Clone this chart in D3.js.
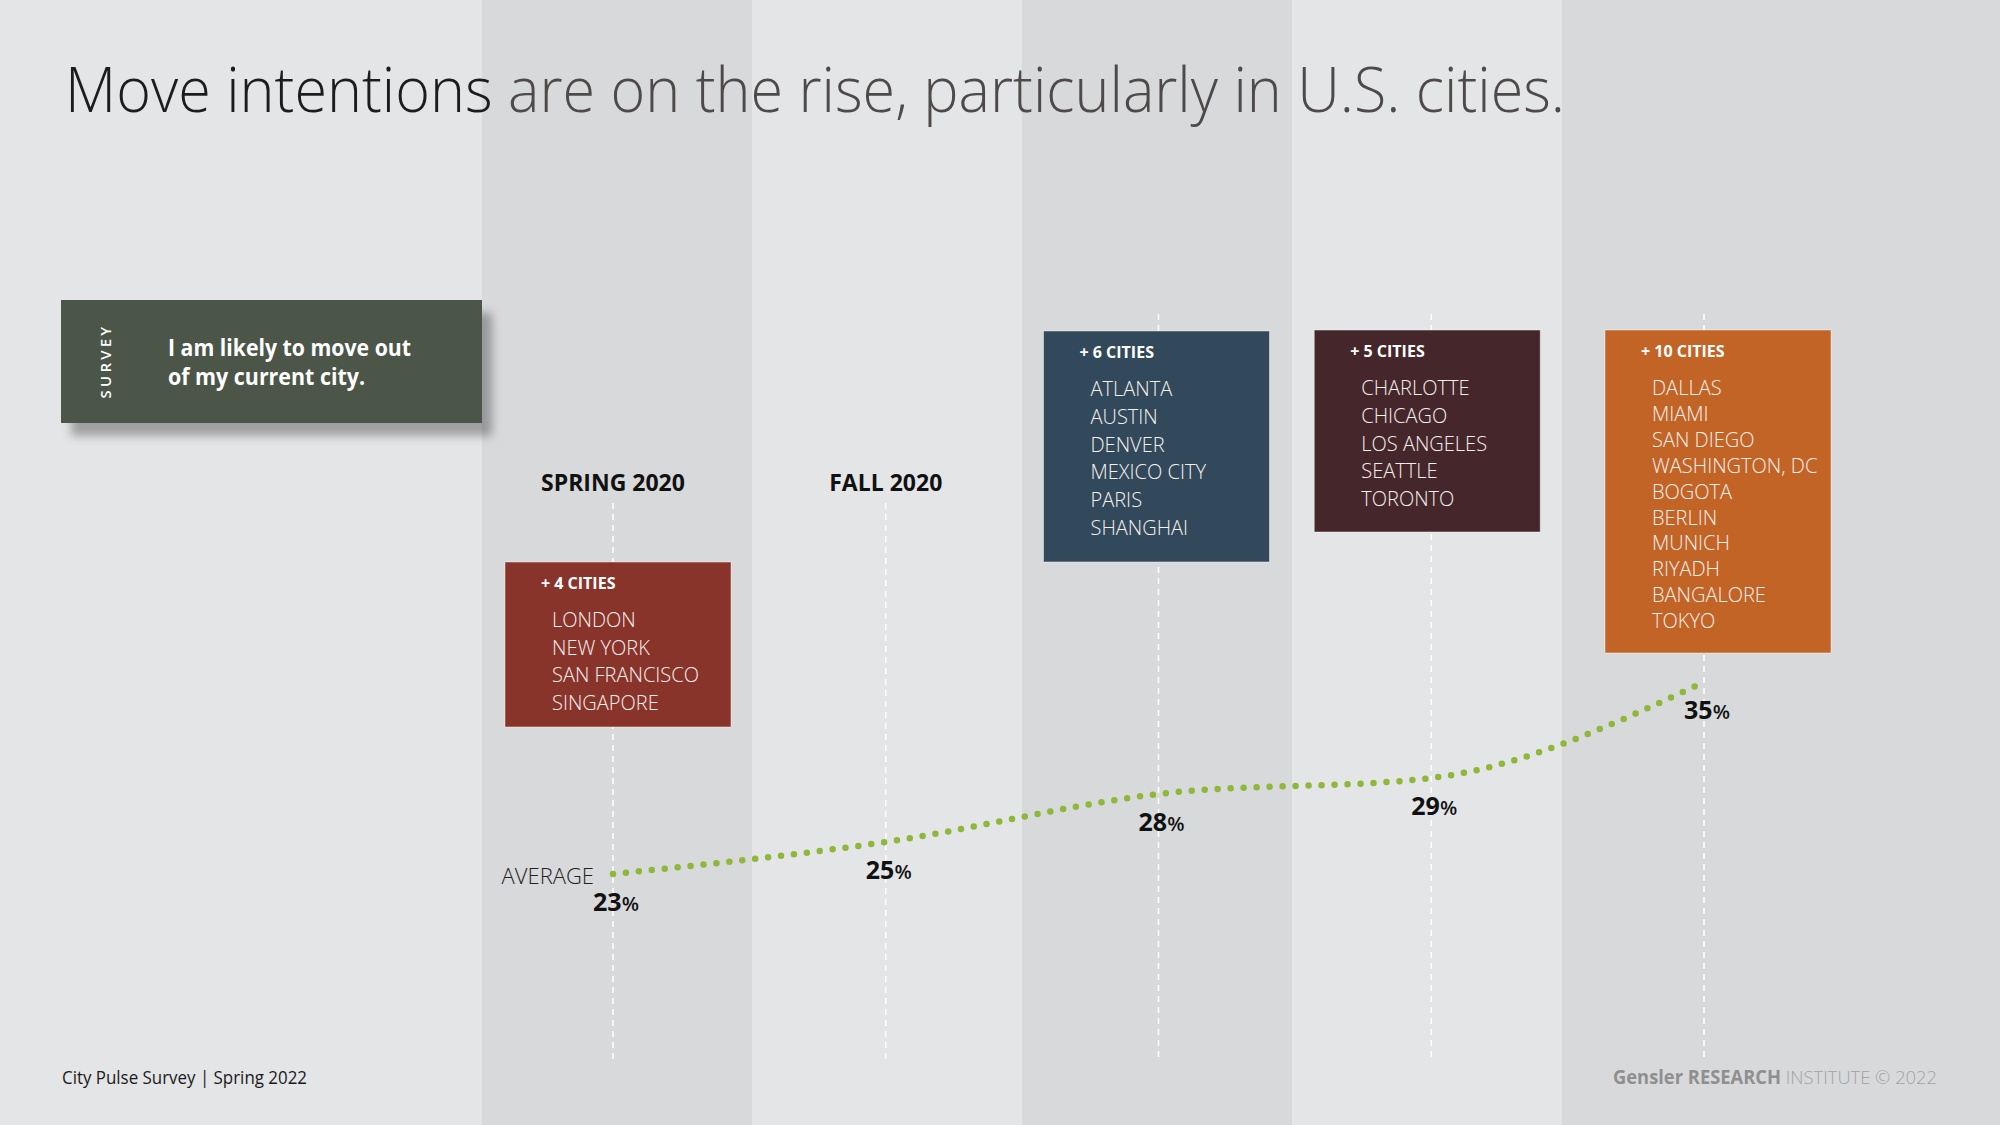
<!DOCTYPE html>
<html>
<head>
<meta charset="utf-8">
<script src="https://cdn.jsdelivr.net/npm/d3@7"></script>
<style>
html, body { margin: 0; padding: 0; background: #e4e5e7; }
svg { display: block; font-family: "Open Sans", "Noto Sans", sans-serif; }
</style>
</head>
<body>
<svg id="chart" width="2000" height="1125"></svg>
<script>
// ---- data ----
const headers = ["SPRING 2020", "FALL 2020", "", "", ""]
const averages = [23, 25, 28, 29, 35]
const addedCounts = ["+ 4 CITIES", null, "+ 6 CITIES", "+ 5 CITIES", "+ 10 CITIES"]
const addedCities = [
    ["LONDON", "NEW YORK", "SAN FRANCISCO", "SINGAPORE"],
    [],
    ["ATLANTA", "AUSTIN", "DENVER", "MEXICO CITY", "PARIS", "SHANGHAI"],
    ["CHARLOTTE", "CHICAGO", "LOS ANGELES", "SEATTLE", "TORONTO"],
    ["DALLAS", "MIAMI", "SAN DIEGO", "WASHINGTON, DC", "BOGOTA", "BERLIN", "MUNICH", "RIYADH", "BANGALORE", "TOKYO"]
]
const surveyLines = ["I am likely to move out", "of my current city."]

// ---- styling / layout ----
const boxColors = ["#89342b", null, "#32495b", "#45272b", "#c36427"]
const boxLayout = [
    { top: 562, bottom: 727, step: 27.5, dx: -108 },
    null,
    { top: 331, bottom: 562, step: 27.8, dx: -115 },
    { top: 330, bottom: 532, step: 27.8, dx: -117 },
    { top: 330, bottom: 653, step: 25.9, dx: -99 }
]
const boxWidth = 226

const svg = d3.select("#chart")
const W = 2000, H = 1125

const idx = d3.range(averages.length)
const x = d3.scalePoint().domain(idx).range([613, 1704])
const bands = d3.scaleBand().domain(idx).range([482, 1832])
const y = d3.scaleLinear().domain([20, 40]).range([922, 602])

// squeeze a text to a target width (the original face is narrower than ours)
function squeeze(sel, w) {
    sel.each(function () {
        if (this.getComputedTextLength() > w) {
            d3.select(this).attr("textLength", w).attr("lengthAdjust", "spacingAndGlyphs")
        }
    })
}

// background + alternating column shading
svg.append("rect").attr("width", W).attr("height", H).attr("fill", "#e4e5e7")
svg.selectAll("rect.band")
    .data(idx)
    .join("rect")
    .attr("class", "band")
    .attr("x", d => bands(d))
    .attr("y", 0)
    .attr("width", d => d === idx.length - 1 ? W - bands(d) : bands.bandwidth())
    .attr("height", H)
    .attr("fill", d => d % 2 === 0 ? "#d8d9db" : "#e4e5e7")

// shadow for the survey card
const defs = svg.append("defs")
const f = defs.append("filter").attr("id", "shadow").attr("x", "-10%").attr("y", "-20%").attr("width", "130%").attr("height", "150%")
f.append("feDropShadow").attr("dx", 10).attr("dy", 13).attr("stdDeviation", 5)
    .attr("flood-color", "#000").attr("flood-opacity", 0.3)

// title
const title = svg.append("text")
    .attr("x", 65).attr("y", 112)
    .attr("font-size", 62).attr("font-weight", 300)
title.append("tspan").attr("fill", "#1c1c1c").text("Move intentions")
title.append("tspan").attr("fill", "#4e4a4a").text(" are on the rise, particularly in U.S. cities.")
squeeze(title, 1500)

// survey card
const card = svg.append("g")
card.append("rect")
    .attr("x", 61).attr("y", 300).attr("width", 421).attr("height", 123)
    .attr("fill", "#4b5649").attr("filter", "url(#shadow)")
card.append("text")
    .attr("transform", "translate(111,361) rotate(-90)")
    .attr("text-anchor", "middle")
    .attr("fill", "#fff").attr("font-size", 15).attr("font-weight", 600)
    .attr("letter-spacing", 3.2)
    .text("SURVEY")
card.selectAll("text.q")
    .data(surveyLines)
    .join("text")
    .attr("class", "q")
    .attr("x", 168).attr("y", (d, i) => 356 + i * 29)
    .attr("fill", "#fff").attr("font-size", 23).attr("font-weight", 700)
    .text(d => d)
    .each(function (d, i) { squeeze(d3.select(this), i === 0 ? 243 : 197) })

// dashed guides
svg.selectAll("line.guide")
    .data(idx)
    .join("line")
    .attr("class", "guide")
    .attr("x1", d => x(d)).attr("x2", d => x(d))
    .attr("y1", d => headers[d] ? 503 : 314)
    .attr("y2", 1060)
    .attr("stroke", "#fff").attr("stroke-width", 1.5)
    .attr("stroke-dasharray", "6,5")

// column headers
svg.selectAll("text.header")
    .data(idx.filter(d => headers[d]))
    .join("text")
    .attr("class", "header")
    .attr("x", d => x(d)).attr("y", 491)
    .attr("text-anchor", "middle")
    .attr("font-size", 23).attr("font-weight", 700).attr("fill", "#111")
    .text(d => headers[d])
    .each(function () { squeeze(d3.select(this), 146) })

// city boxes
const boxes = svg.selectAll("g.box")
    .data(idx.filter(d => boxLayout[d]))
    .join("g")
    .attr("class", "box")
    .attr("transform", d => `translate(${x(d) + boxLayout[d].dx},${boxLayout[d].top})`)

boxes.append("rect")
    .attr("width", boxWidth)
    .attr("height", d => boxLayout[d].bottom - boxLayout[d].top)
    .attr("fill", d => boxColors[d])
    .attr("stroke", "rgba(255,255,255,0.45)").attr("stroke-width", 1)

boxes.append("text")
    .attr("x", 36).attr("y", 27)
    .attr("fill", "#fff").attr("font-size", 16).attr("font-weight", 700)
    .text(d => addedCounts[d])

boxes.each(function (d) {
    d3.select(this).selectAll("text.city")
        .data(addedCities[d])
        .join("text")
        .attr("class", "city")
        .attr("x", 47)
        .attr("y", (c, i) => 65 + i * boxLayout[d].step)
        .attr("fill", "#f6f0ee").attr("font-size", 20).attr("font-weight", 300)
        .text(c => c)
})

// average line (dotted)
const line = d3.line()
    .x(d => x(d))
    .y(d => y(averages[d]))
    .curve(d3.curveMonotoneX)

svg.append("path")
    .datum(idx)
    .attr("d", line)
    .attr("fill", "none")
    .attr("stroke", "#8db83a")
    .attr("stroke-width", 6.5)
    .attr("stroke-linecap", "round")
    .attr("stroke-dasharray", "0,13")

// value labels
const vals = svg.selectAll("text.val")
    .data(idx)
    .join("text")
    .attr("class", "val")
    .attr("x", d => x(d) + 3)
    .attr("y", d => y(averages[d]) + 37)
    .attr("text-anchor", "middle")
    .attr("fill", "#111").attr("font-size", 25).attr("font-weight", 700)
vals.append("tspan").text(d => averages[d])
vals.append("tspan").attr("font-size", 20).attr("font-weight", 600).text("%")

svg.append("text")
    .attr("x", 594).attr("y", y(averages[0]) + 10)
    .attr("text-anchor", "end")
    .attr("fill", "#222").attr("font-size", 22).attr("font-weight", 300)
    .text("AVERAGE")

// footer
svg.append("text")
    .attr("x", 62).attr("y", 1084)
    .attr("fill", "#1a1a1a").attr("font-size", 18)
    .text("City Pulse Survey | Spring 2022")
    .call(squeeze, 245)

const credit = svg.append("text")
    .attr("x", 1937).attr("y", 1084)
    .attr("text-anchor", "end")
    .attr("font-size", 19)
credit.append("tspan").attr("fill", "#8f8f8f").attr("font-weight", 700).text("Gensler RESEARCH")
credit.append("tspan").attr("fill", "#a3a3a3").attr("font-weight", 300).text(" INSTITUTE © 2022")
credit.call(squeeze, 324)
</script>
</body>
</html>
